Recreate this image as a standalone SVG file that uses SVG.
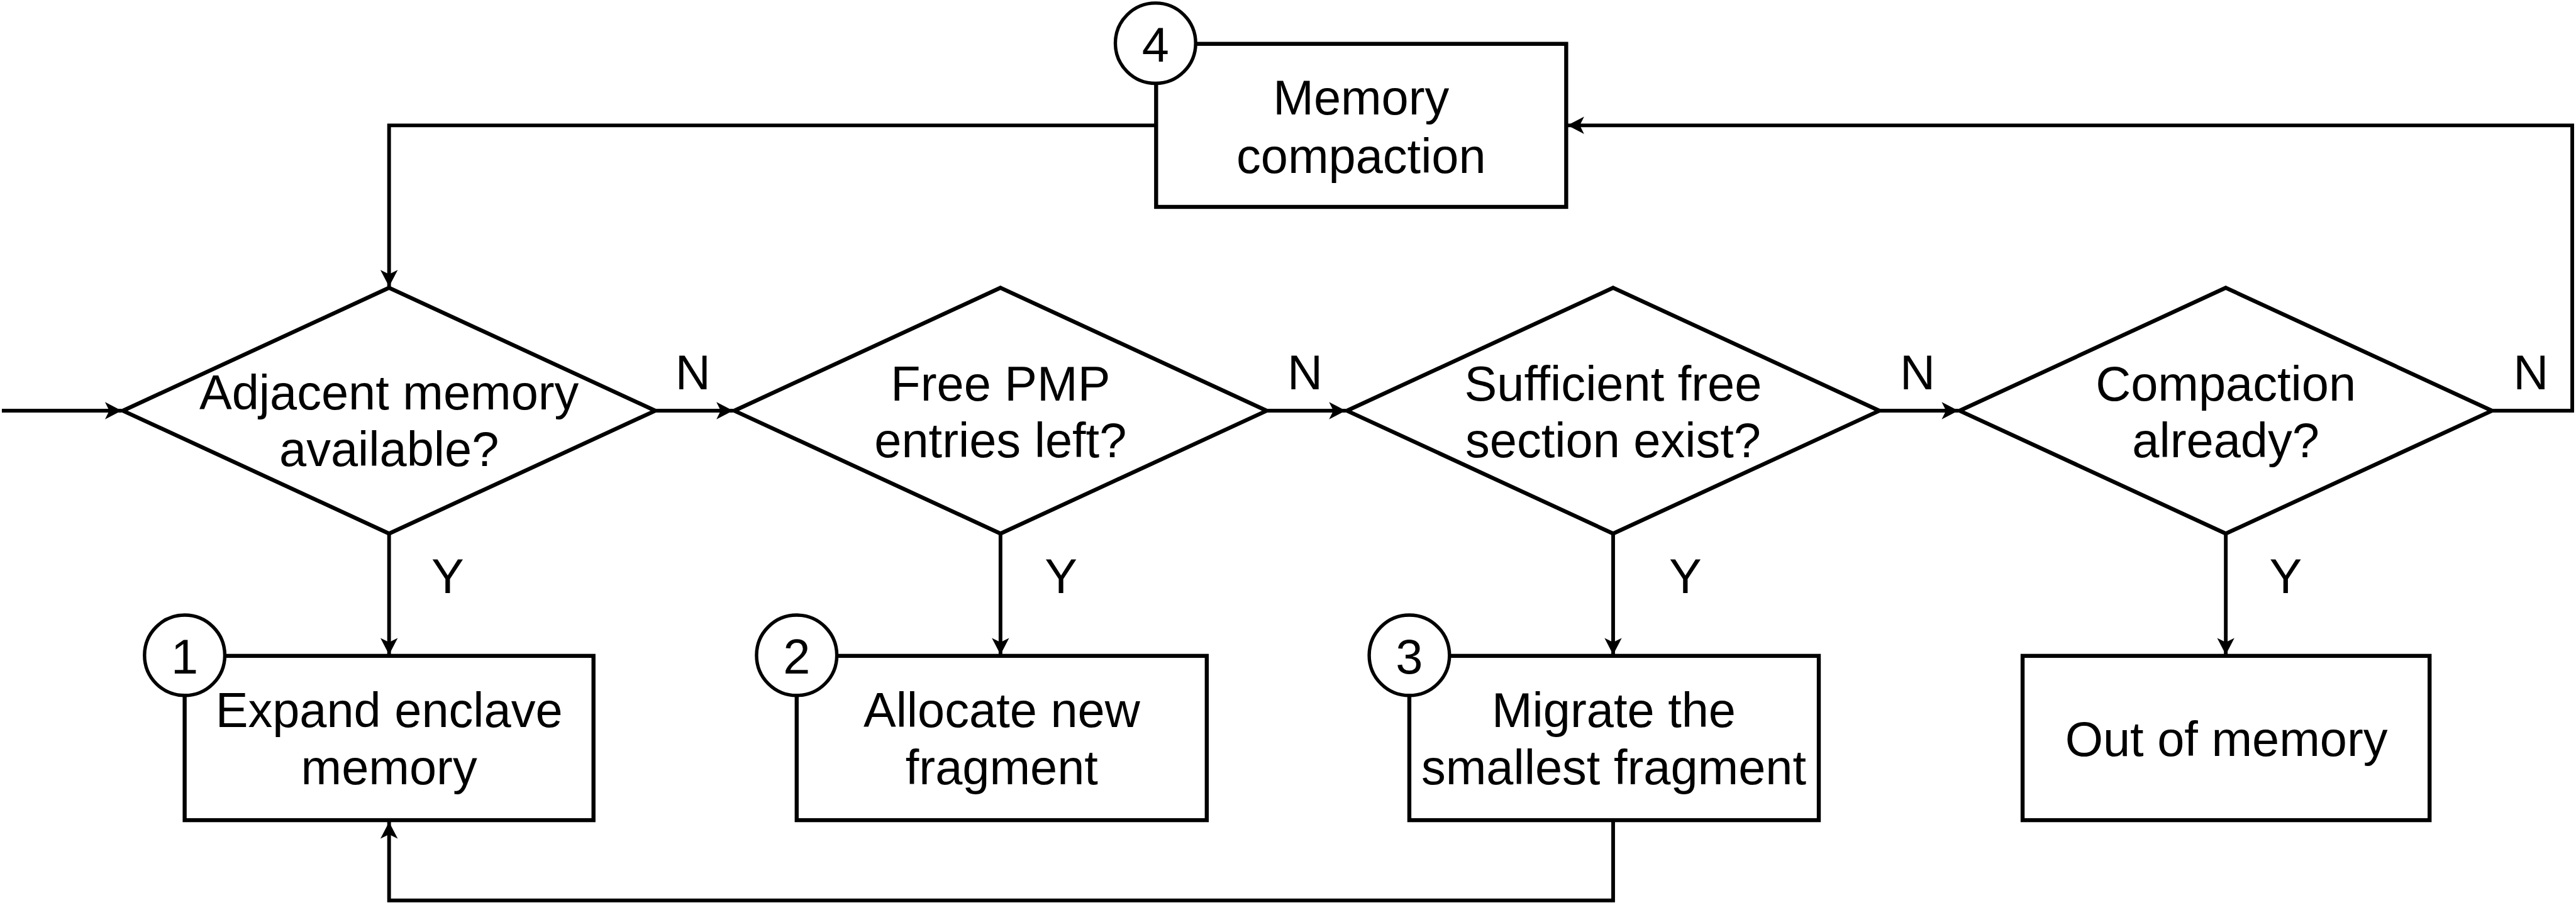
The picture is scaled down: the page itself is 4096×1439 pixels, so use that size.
<svg xmlns="http://www.w3.org/2000/svg" width="4096" height="1439" viewBox="0 0 4096 1439">
<style>
.shape{fill:#fff;stroke:#000;stroke-width:6.5;stroke-linejoin:miter}
.circ{fill:#fff;stroke:#000;stroke-width:5.5}
.conn{fill:none;stroke:#000;stroke-width:6;stroke-linejoin:miter}
text{font-family:"Liberation Sans",Arial,Helvetica,sans-serif;font-size:79px;fill:#000}
.c{text-anchor:middle}
</style>
<defs>
<marker id="arr" viewBox="0 0 32 32" markerWidth="32" markerHeight="32" refX="30" refY="16" orient="auto" markerUnits="userSpaceOnUse">
<path d="M30,16 L3,2 L10,16 L3,30 Z" fill="#000"/>
</marker>
</defs>
<rect width="4096" height="1439" fill="#fff"/>
<g transform="scale(0.982)">
<g id="connectors">
<path class="conn" d="M3,665 H197" marker-end="url(#arr)"/>
<path class="conn" d="M1061,665 H1187" marker-end="url(#arr)"/>
<path class="conn" d="M2051,665 H2179" marker-end="url(#arr)"/>
<path class="conn" d="M3043,665 H3171" marker-end="url(#arr)"/>
<path class="conn" d="M4035,665 H4165 V203 H2538" marker-end="url(#arr)"/>
<path class="conn" d="M1872,203 H630 V464" marker-end="url(#arr)"/>
<path class="conn" d="M630,864 V1060" marker-end="url(#arr)"/>
<path class="conn" d="M1620,864 V1060" marker-end="url(#arr)"/>
<path class="conn" d="M2612,864 V1060" marker-end="url(#arr)"/>
<path class="conn" d="M3604,864 V1060" marker-end="url(#arr)"/>
<path class="conn" d="M2612,1328 V1458 H630 V1331" marker-end="url(#arr)"/>
<text x="1122" y="630" class="c">N</text>
<text x="2113" y="630" class="c">N</text>
<text x="3105" y="630" class="c">N</text>
<text x="4098" y="630" class="c">N</text>
<text x="725" y="960" class="c">Y</text>
<text x="1718" y="960" class="c">Y</text>
<text x="2729" y="960" class="c">Y</text>
<text x="3701" y="960" class="c">Y</text>
</g>
<g id="d1">
<polygon class="shape" points="630,466 1061,665 630,864 199,665"/>
<text x="630" y="663" class="c">Adjacent memory</text>
<text x="630" y="755" class="c">available?</text>
</g>
<g id="d2">
<polygon class="shape" points="1620,466 2051,665 1620,864 1189,665"/>
<text x="1620" y="649" class="c">Free PMP</text>
<text x="1620" y="740" class="c">entries left?</text>
</g>
<g id="d3">
<polygon class="shape" points="2612,466 3043,665 2612,864 2181,665"/>
<text x="2612" y="649" class="c">Sufficient free</text>
<text x="2612" y="740" class="c">section exist?</text>
</g>
<g id="d4">
<polygon class="shape" points="3604,466 4035,665 3604,864 3173,665"/>
<text x="3604" y="649" class="c">Compaction</text>
<text x="3604" y="740" class="c">already?</text>
</g>
<g id="r4compact">
<rect class="shape" x="1872" y="71" width="664" height="264"/>
<text x="2204" y="185" class="c">Memory</text>
<text x="2204" y="280" class="c">compaction</text>
<circle class="circ" cx="1871" cy="70" r="65"/>
<text x="1871" y="100" class="c">4</text>
</g>
<g id="r1">
<rect class="shape" x="299" y="1062" width="662" height="266"/>
<text x="630" y="1177" class="c">Expand enclave</text>
<text x="630" y="1270" class="c">memory</text>
<circle class="circ" cx="299" cy="1061" r="65"/>
<text x="299" y="1091" class="c">1</text>
</g>
<g id="r2">
<rect class="shape" x="1290" y="1062" width="664" height="266"/>
<text x="1622" y="1177" class="c">Allocate new</text>
<text x="1622" y="1270" class="c">fragment</text>
<circle class="circ" cx="1290" cy="1061" r="65"/>
<text x="1290" y="1091" class="c">2</text>
</g>
<g id="r3">
<rect class="shape" x="2282" y="1062" width="663" height="266"/>
<text x="2613" y="1177" class="c">Migrate the</text>
<text x="2613" y="1270" class="c">smallest fragment</text>
<circle class="circ" cx="2282" cy="1061" r="65"/>
<text x="2282" y="1091" class="c">3</text>
</g>
<g id="rout">
<rect class="shape" x="3275" y="1062" width="659" height="266"/>
<text x="3605" y="1224" class="c">Out of memory</text>
</g>
</g>
</svg>
